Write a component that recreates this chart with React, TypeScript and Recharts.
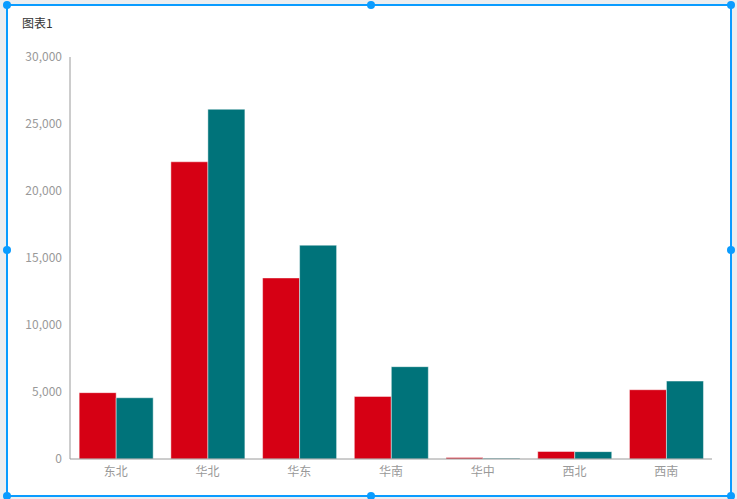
import React from "react";
import { BarChart, Bar, XAxis, YAxis } from "recharts";

const categories = ["东北", "华北", "华东", "华南", "华中", "西北", "西南"];
const series1 = [4950, 22180, 13510, 4670, 110, 560, 5170];
const series2 = [4570, 26100, 15955, 6890, 60, 550, 5815];
const yTicks = [0, 5000, 10000, 15000, 20000, 25000, 30000];

const data = categories.map((c, i) => ({ name: c, a: series1[i], b: series2[i] }));

const handlePos: [number, number][] = [
  [7, 5], [371, 5], [731, 5],
  [7, 250], [731, 250],
  [7, 496], [371, 496], [731, 496],
];

export default function App() {
  const font = '"Noto Sans CJK SC", "Noto Sans", sans-serif';
  return (
    <div style={{ position: "fixed", left: 0, top: 0, width: 737, height: 499, background: "#eceef0", overflow: "hidden", fontFamily: font }}>
      <div style={{ position: "absolute", left: 6, top: 4, width: 726, height: 493, background: "#fff", boxSizing: "border-box", border: "2px solid #0a9cff" }} />
      <div style={{ position: "absolute", left: 22, top: 15, fontSize: 12, color: "#333", lineHeight: "16px" }}>图表1</div>
      <div style={{ position: "absolute", left: 0, top: 0 }}>
        <BarChart width={737} height={499} data={data} margin={{ top: 57, right: 25, bottom: 10, left: 10 }} barCategoryGap="10%" barGap={0}>
          <XAxis dataKey="name" axisLine={{ stroke: "#9a9a9a" }} tickLine={false} tick={{ fill: "#999", fontSize: 12, fontFamily: font }} height={30} />
          <YAxis width={60} domain={[0, 30000]} ticks={yTicks} axisLine={{ stroke: "#9a9a9a" }} tickLine={false} tick={{ fill: "#999", fontSize: 12, fontFamily: font }} tickFormatter={(v: number) => v.toLocaleString("en-US")} />
          <Bar dataKey="a" fill="#d60014" stroke="rgba(255,255,255,0.45)" strokeWidth={1} isAnimationActive={false} />
          <Bar dataKey="b" fill="#00737a" stroke="rgba(255,255,255,0.45)" strokeWidth={1} isAnimationActive={false} />
        </BarChart>
      </div>
      {handlePos.map(([x, y], i) => (
        <div key={i} style={{ position: "absolute", left: x - 4, top: y - 4, width: 8, height: 8, borderRadius: "50%", background: "#0a9cff" }} />
      ))}
    </div>
  );
}
